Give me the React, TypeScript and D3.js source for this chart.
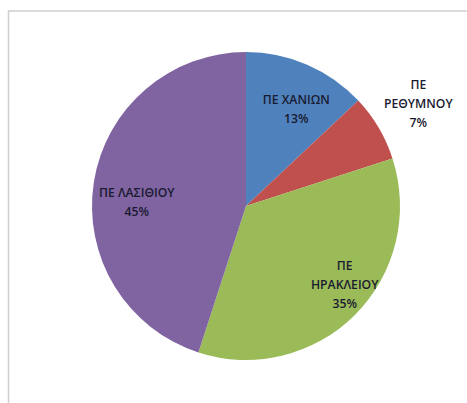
import React from "react";
import * as d3 from "d3";

const categories = ["ΠΕ ΧΑΝΙΩΝ", "ΠΕ ΡΕΘΥΜΝΟΥ", "ΠΕ ΗΡΑΚΛΕΙΟΥ", "ΠΕ ΛΑΣΙΘΙΟΥ"];
const values = [13, 7, 35, 45];
const labelLines = [
  ["ΠΕ ΧΑΝΙΩΝ", "13%"],
  ["ΠΕ", "ΡΕΘΥΜΝΟΥ", "7%"],
  ["ΠΕ", "ΗΡΑΚΛΕΙΟΥ", "35%"],
  ["ΠΕ ΛΑΣΙΘΙΟΥ", "45%"],
];
const colors = ["#4F81BD", "#C0504D", "#9BBB59", "#8064A2"];

const W = 467;
const H = 403;
const cx = 246;
const cy = 206;
const R = 154;
// label placement: radius factor and angle nudge (degrees)
const labelPlace = [
  { rf: 0.71, nudge: 4 },
  { rf: 1.3, nudge: 0 },
  { rf: 0.82, nudge: -6.4 },
  { rf: 0.71, nudge: -7 },
];
const lineH = 19;

export default function App() {
  const data = categories.map((c, i) => ({ name: c, value: values[i], i }));
  const pie = d3.pie<any>().value((d) => d.value).sort(null);
  const arcs = pie(data);
  const arc = d3.arc<any>().innerRadius(0).outerRadius(R);
  return (
    <svg
      width={W}
      height={H}
      style={{ position: "absolute", left: 0, top: 0, background: "#fff" }}
    >
      <rect x={8.5} y={11} width={470} height={420} fill="#fff" stroke="#cfcfcf" strokeWidth={1.5} />
      <g transform={`translate(${cx},${cy})`}>
        {arcs.map((a, i) => (
          <path key={i} d={arc(a) as string} fill={colors[i]} />
        ))}
        {arcs.map((a, i) => {
          const mid = (a.startAngle + a.endAngle) / 2 + (labelPlace[i].nudge * Math.PI) / 180;
          const r = R * labelPlace[i].rf;
          const x = Math.sin(mid) * r;
          const y = -Math.cos(mid) * r;
          const lines = labelLines[i];
          const y0 = y - ((lines.length - 1) * lineH) / 2;
          return (
            <text
              key={i}
              x={x}
              textAnchor="middle"
              fontFamily="'Open Sans', 'DejaVu Sans', sans-serif"
              fontSize={12.2}
              fontWeight={600}
              fill="#1a1a30"
            >
              {lines.map((l, j) => (
                <tspan key={j} x={x} y={y0 + j * lineH} dy="0.35em">
                  {l}
                </tspan>
              ))}
            </text>
          );
        })}
      </g>
    </svg>
  );
}
